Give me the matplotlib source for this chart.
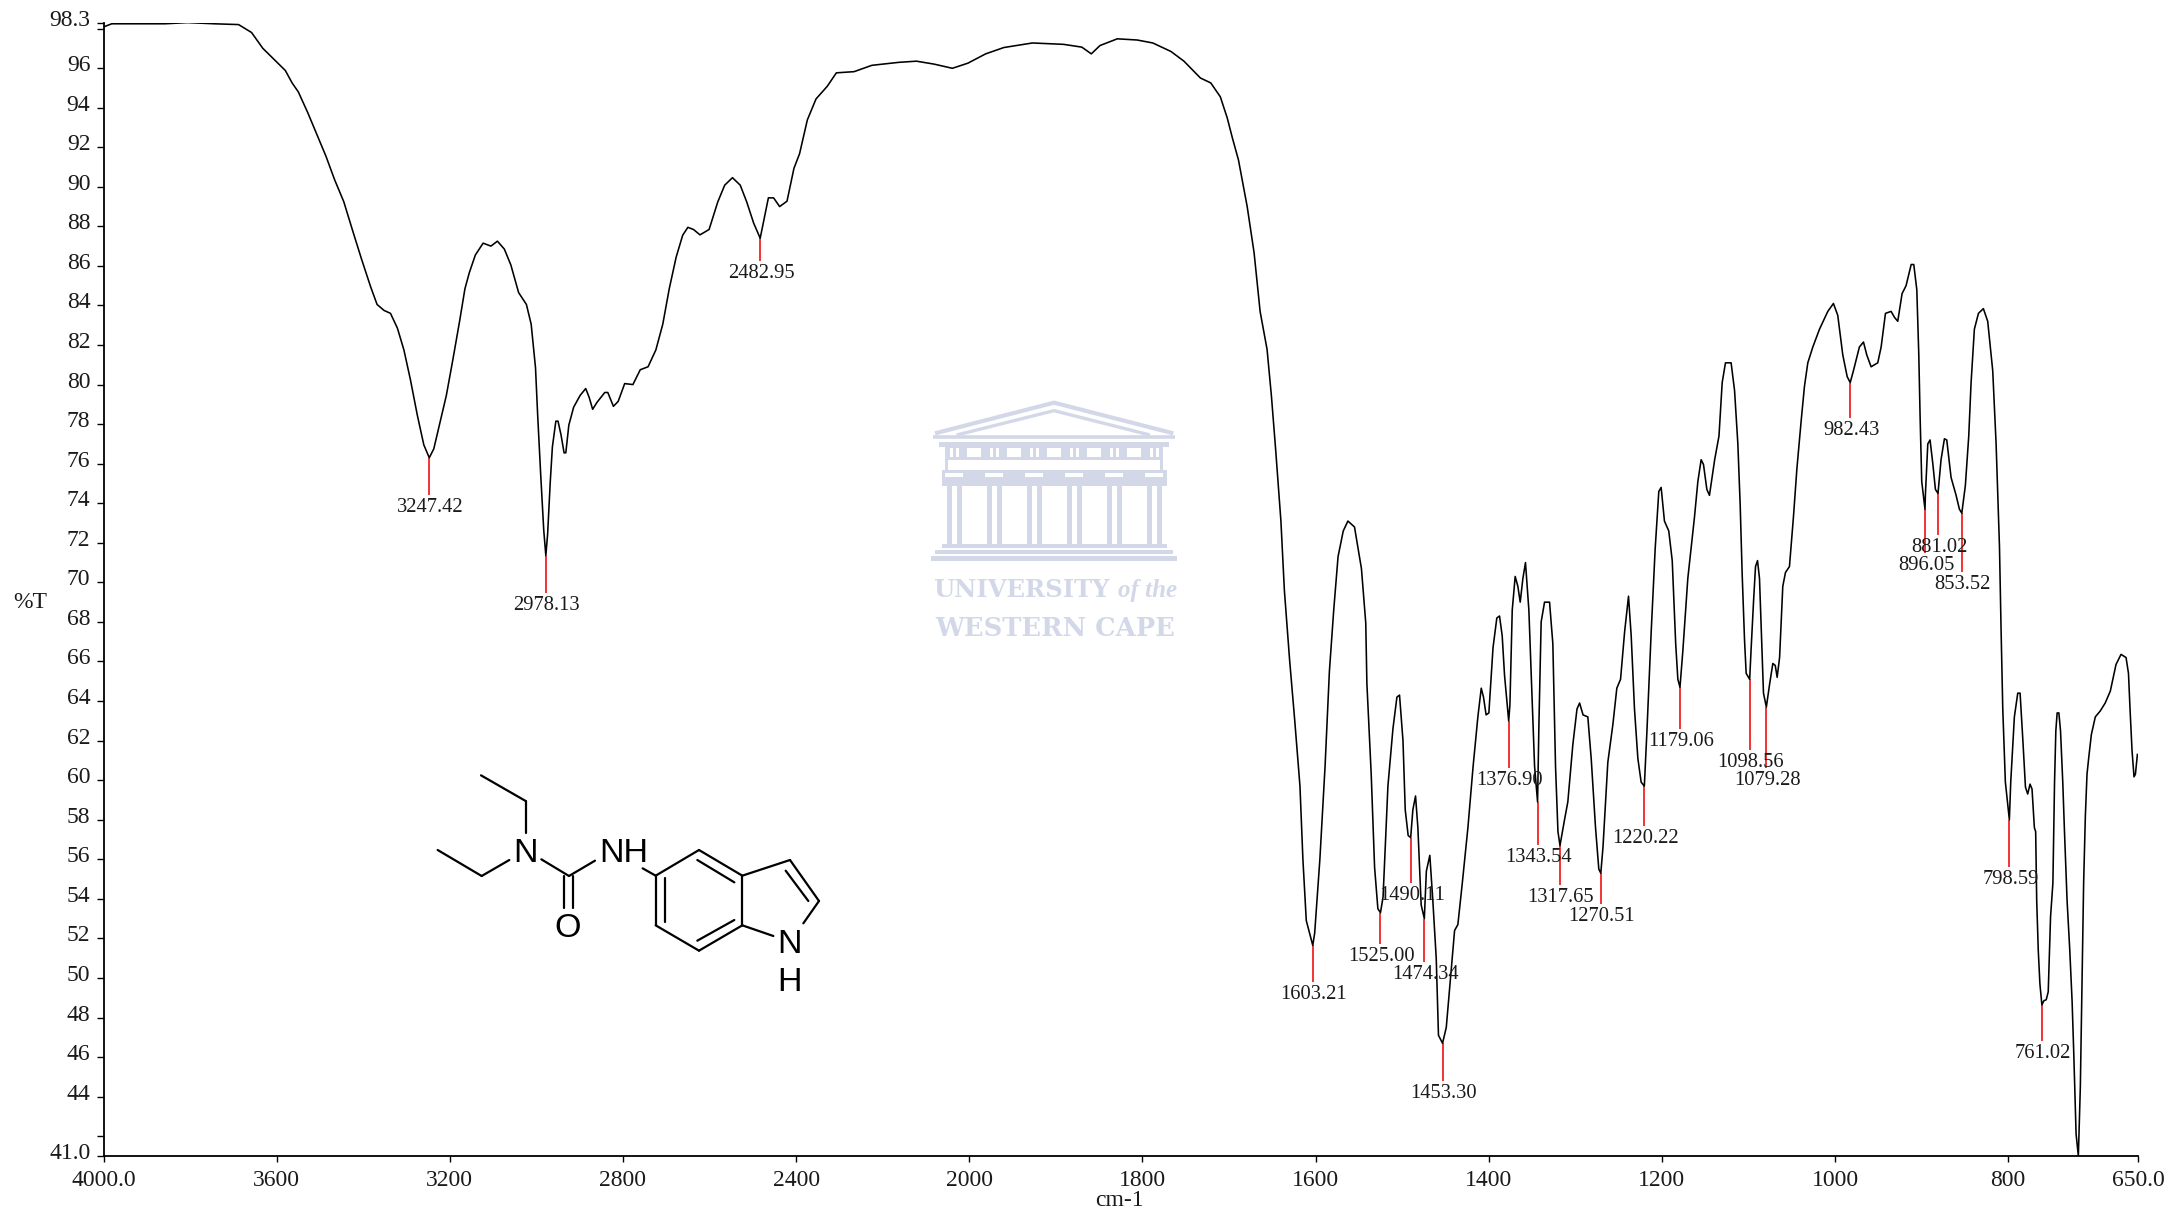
from matplotlib import pyplot as plt
from matplotlib.patches import Rectangle
from matplotlib.ticker import FixedLocator, FixedFormatter, NullLocator
from matplotlib.transforms import ScaledTranslation
import numpy as np

# spectrum, one list per stretch of the trace
wn_high = [4000, 3981, 3930, 3858, 3806, 3744, 3688, 3658, 3632, 3606, 3580, 3564, 3550, 3528, 3507, 3486, 3466, 3445,
           3424, 3404, 3383, 3368, 3352, 3337, 3321, 3306, 3291, 3275, 3260, 3247.42, 3237, 3224, 3208, 3193, 3177,
           3165, 3155, 3141, 3123, 3105, 3090, 3074, 3059, 3041, 3023, 3012, 3002, 2997, 2990, 2983, 2978.13, 2974,
           2968, 2963, 2955, 2950, 2943, 2936, 2932, 2925, 2914, 2899, 2886, 2878, 2870, 2860, 2842, 2835, 2822, 2811,
           2796, 2777, 2760, 2742, 2724, 2708, 2693, 2677, 2662, 2650]
t_high = [98.08, 98.24, 98.24, 98.24, 98.3, 98.24, 98.2, 97.8, 97.0, 96.44, 95.88, 95.24, 94.8, 93.74, 92.64, 91.54,
          90.35, 89.25, 87.75, 86.35, 84.95, 84.05, 83.75, 83.6, 82.85, 81.75, 80.25, 78.45, 76.95, 76.3, 76.75, 77.95,
          79.45, 81.25, 83.25, 84.85, 85.65, 86.55, 87.15, 87.0, 87.25, 86.85, 86.05, 84.65, 84.05, 83.05, 80.85, 78.45,
          75.45, 72.65, 71.35, 72.45, 75.05, 76.85, 78.15, 78.15, 77.45, 76.55, 76.55, 77.95, 78.85, 79.45, 79.8, 79.35,
          78.75, 79.1, 79.6, 79.6, 78.9, 79.15, 80.05, 80.0, 80.75, 80.9, 81.75, 83.05, 84.85, 86.45, 87.55, 87.95]

wn_mid = [2637, 2622, 2601, 2581, 2565, 2547, 2529, 2514, 2498, 2482.95, 2472, 2464, 2452, 2438, 2421, 2405, 2392, 2374,
          2354, 2328, 2307, 2266, 2225, 2163, 2122, 2081, 2039, 2003, 1981, 1960, 1927, 1891, 1870, 1859, 1849, 1829,
          1806, 1788, 1767, 1752, 1733, 1721, 1710, 1702, 1696, 1689, 1679, 1671, 1664, 1656, 1651, 1646]
t_mid = [87.84, 87.57, 87.84, 89.23, 90.08, 90.46, 90.08, 89.23, 88.16, 87.4, 88.59, 89.44, 89.44, 89.0, 89.27, 90.93,
         91.67, 93.38, 94.44, 95.08, 95.76, 95.82, 96.14, 96.29, 96.35, 96.2, 95.99, 96.25, 96.72, 97.04, 97.27, 97.2,
         97.06, 96.72, 97.14, 97.48, 97.42, 97.27, 96.84, 96.35, 95.5, 95.25, 94.55, 93.48, 92.46, 91.35, 89.01, 86.67,
         83.69, 81.78, 79.44, 76.67]

wn_fp1 = [1640, 1636, 1630, 1624, 1618, 1614.6, 1610.7, 1603.21, 1601, 1595, 1589, 1584, 1579, 1574, 1568, 1562.6, 1555,
          1547, 1542, 1540.7, 1535.7, 1531.8, 1528, 1525, 1522, 1516.4, 1510.6, 1506, 1503, 1499, 1496.4, 1493, 1490.11,
          1487.6, 1484.5, 1481.8, 1478, 1474.34, 1472, 1468, 1464.5, 1460.6, 1458, 1453.3, 1449, 1444.5, 1439.4, 1435.6,
          1430.6, 1424, 1418, 1412.5, 1408.6, 1406, 1403, 1399.8, 1395, 1390.6, 1387.5, 1384.4, 1381.7, 1376.9, 1375.5,
          1372.8, 1369.4, 1366.3, 1363.6, 1360.5, 1357.5, 1353.6, 1349.8, 1347, 1343.54, 1342, 1339.4, 1335.5, 1329.7,
          1325.9, 1322.8, 1320, 1317.65, 1312.4, 1308.6, 1302.8, 1298, 1295, 1291, 1285.5, 1281.6, 1276.6, 1272.8,
          1270.51, 1268, 1262.4, 1256.6, 1252, 1247.7, 1243, 1238.5, 1235.4, 1231.6, 1227.7, 1223.9, 1220.22, 1217.3,
          1212.3, 1207.7, 1203.5, 1200.8, 1197, 1192, 1188, 1184, 1181.5, 1179.06, 1175.8, 1170, 1162.3]
t_fp1 = [73.1, 69.6, 66.1, 63.0, 59.7, 56.0, 52.9, 51.65, 52.27, 56.0, 60.7, 65.5, 68.6, 71.3, 72.6, 73.1, 72.8, 70.7,
         67.95, 64.9, 60.3, 55.6, 53.5, 53.3, 54.1, 59.7, 62.6, 64.2, 64.3, 62.0, 58.5, 57.2, 57.1, 58.5, 59.2, 57.6,
         53.7, 53.0, 55.4, 56.2, 53.9, 51.0, 47.1, 46.7, 47.5, 49.8, 52.4, 52.7, 54.75, 57.6, 60.7, 63.2, 64.65, 64.2,
         63.3, 63.4, 66.7, 68.2, 68.3, 67.3, 65.3, 63.0, 63.8, 68.6, 70.3, 69.8, 69.0, 70.2, 71.0, 68.6, 64.0, 60.7,
         58.9, 62.8, 68.0, 69.0, 69.0, 66.9, 60.7, 57.4, 56.7, 58.0, 58.9, 61.8, 63.6, 63.9, 63.3, 63.2, 61.1, 57.6,
         55.5, 55.3, 56.6, 60.9, 62.8, 64.65, 65.1, 67.5, 69.3, 67.3, 63.6, 61.1, 59.9, 59.7, 62.4, 67.5, 71.7, 74.6,
         74.8, 73.1, 72.6, 71.1, 66.9, 65.1, 64.7, 66.5, 70.2, 73.3]

wn_fp2 = [1158.4, 1154.6, 1151.9, 1148, 1145, 1139, 1134, 1130.3, 1126.5, 1120, 1116, 1112.2, 1109.5, 1107.2, 1104.5,
          1102.6, 1098.56, 1096.8, 1094, 1091.8, 1089.5, 1087.2, 1084.5, 1082.6, 1079.28, 1075.7, 1071.8, 1069, 1066.8,
          1064, 1060.3, 1057.2, 1052.6, 1048, 1044, 1039, 1035.3, 1031.4, 1025.6, 1017.9, 1008.3, 1001.8, 996.8, 991,
          985.9, 982.43, 978.7, 971.8, 967.1, 963.3, 958.3, 950.6, 946.7, 941.7, 935.2, 931.3, 927.5, 922.5, 917.9, 912,
          909, 905.5, 903.2, 901.7, 899.8, 896.05, 895.5, 892.8, 890.2, 887, 884, 881.02, 877.5, 873.6, 870.9, 865.9,
          860.1, 856.3, 853.52, 849.4, 845.5, 842.8, 839, 834.3, 828.6, 823.6, 817.8, 813.9, 810, 808.2, 806.2, 803.2,
          798.59, 797, 792.8, 788.9, 786.2, 783.1, 780, 777.4, 774.7, 772.4, 769.7]
t_fp2 = [75.1, 76.2, 75.96, 74.7, 74.4, 76.2, 77.4, 80.1, 81.1, 81.1, 79.7, 77.0, 73.9, 70.4, 67.1, 65.4, 65.1, 66.7,
         69.1, 70.8, 71.1, 70.2, 66.7, 64.4, 63.7, 64.8, 65.9, 65.8, 65.2, 66.2, 69.8, 70.5, 70.8, 73.3, 75.75, 78.2,
         79.9, 81.1, 81.9, 82.8, 83.7, 84.1, 83.5, 81.5, 80.4, 80.1, 80.7, 81.9, 82.15, 81.5, 80.9, 81.1, 81.9, 83.6,
         83.7, 83.4, 83.2, 84.6, 85.0, 86.07, 86.07, 84.8, 81.5, 78.4, 75.1, 73.7, 74.5, 77.0, 77.2, 76.0, 74.7, 74.5,
         76.2, 77.26, 77.2, 75.3, 74.4, 73.7, 73.5, 74.9, 77.4, 80.1, 82.8, 83.6, 83.84, 83.2, 80.7, 77.0, 71.8, 67.7,
         63.6, 59.9, 58.0, 59.9, 63.2, 64.4, 64.4, 62.1, 59.65, 59.3, 59.8, 59.55, 57.6]

wn_low = [768.2, 767, 765.2, 763.3, 761.02, 758.7, 756, 753.7, 751, 748.3, 746.4, 744.9, 743.4, 741.4, 739.5, 736.9, 735,
          731.9, 728.8, 726.1, 724.2, 721.5, 718.9, 716.6, 714.7, 712.8, 710.8, 708.9, 707, 703.9, 699.3, 693.6, 687.9,
          682, 675.4, 669.6, 663.8, 661, 659.2, 656.9, 654.6, 653, 650.7]
t_low = [57.4, 53.9, 51.4, 49.7, 48.64, 48.85, 48.9, 49.3, 53.1, 54.8, 59.9, 62.5, 63.4, 63.4, 62.5, 59.9, 57.5, 53.9,
         51.4, 48.8, 46.2, 42.1, 41.0, 44.5, 49.7, 54.8, 58.2, 60.3, 61.1, 62.3, 63.2, 63.5, 63.9, 64.5, 65.85, 66.36,
         66.2, 65.4, 63.6, 61.5, 60.17, 60.3, 61.3]

# picked peaks: position, trace value, where the red line stops
peak_wn = [3247.42, 2978.13, 2482.95, 1603.21, 1525.00, 1490.11, 1474.34, 1453.30, 1376.90, 1343.54, 1317.65,
           1270.51, 1220.22, 1179.06, 1098.56, 1079.28, 982.43, 896.05, 881.02, 853.52, 798.59, 761.02]
peak_t = [76.3, 71.35, 87.4, 51.65, 53.3, 57.1, 53.0, 46.7, 63.0, 58.9, 56.7,
          55.3, 59.7, 64.7, 65.1, 63.7, 80.1, 73.7, 74.5, 73.5, 58.0, 48.64]
peak_end = [74.4, 69.45, 86.25, 49.8, 51.7, 54.8, 50.8, 44.8, 60.6, 56.7, 54.7,
            53.75, 57.7, 62.6, 61.55, 60.6, 78.3, 71.5, 72.4, 70.5, 55.6, 46.8]

x_ticks = [4000, 3600, 3200, 2800, 2400, 2000, 1800, 1600, 1400, 1200, 1000, 800, 650]
x_labels = ["4000.0", "3600", "3200", "2800", "2400", "2000", "1800", "1600", "1400", "1200", "1000", "800", "650.0"]
y_ticks = [41, 42] + list(range(44, 98, 2)) + [98, 98.3]
y_labels = ["41.0", ""] + [str(v) for v in range(44, 98, 2)] + ["", "98.3"]

SERIF = "Liberation Serif"
W, H = 2172, 1210


# the spectrometer doubles the scale below 2000 cm-1
def forward(x):
    x = np.asarray(x, dtype=float)
    return np.where(x >= 2000, (x - 2000) / 400, (x - 2000) / 200)


def inverse(p):
    p = np.asarray(p, dtype=float)
    return np.where(p >= 0, 2000 + p * 400, 2000 + p * 200)


fig = plt.figure(figsize=(W / 100, H / 100), dpi=100)

# overlay in image pixels for the drawing and the watermark
bg = fig.add_axes([0, 0, 1, 1], zorder=0)
bg.set_xlim(0, W)
bg.set_ylim(H, 0)
bg.axis("off")

# watermark
WM = "#d3d8e9"


def wm_x(v):
    return 900 + v / 3


def wm_y(v):
    return 380 + v / 3


def wm_rect(x0, y0, x1, y1, color=WM):
    bg.add_patch(Rectangle((wm_x(x0), wm_y(y0)), (x1 - x0) / 3, (y1 - y0) / 3, color=color, lw=0))


def wm_line(xs, ys, lw):
    bg.plot([wm_x(v) for v in xs], [wm_y(v) for v in ys], color=WM, lw=lw, solid_capstyle="butt")


wm_line([105, 462, 820], [160, 68, 160], 3.0)
wm_line([170, 462, 750], [165, 92, 165], 2.4)
wm_line([100, 825], [172, 172], 2.6)
wm_rect(118, 186, 808, 200)
wm_rect(135, 200, 790, 240)
for mx in [200, 320, 440, 560, 680]:
    wm_rect(mx, 205, mx + 43, 232, "white")
for mx in [150, 270, 390, 510, 630, 750]:
    wm_rect(mx, 205, mx + 8, 232, "white")
    wm_rect(mx + 18, 205, mx + 26, 232, "white")
wm_rect(135, 240, 145, 270)
wm_rect(780, 240, 790, 270)
wm_rect(125, 270, 800, 318)
for cx in [162, 282, 402, 522, 642, 762]:
    wm_rect(cx - 22, 318, cx + 24, 495)
    wm_rect(cx - 7, 318, cx + 9, 495, "white")
    wm_rect(cx - 26, 278, cx + 28, 290, "white")
wm_rect(125, 492, 800, 505)
wm_rect(105, 510, 820, 522)
wm_rect(92, 528, 832, 542)
bg.text(wm_x(100), wm_y(630), "UNIVERSITY", family="DejaVu Serif", weight="bold", fontsize=17.5, color=WM,
        ha="left", va="center")
bg.text(wm_x(832), wm_y(632), "of the", family=SERIF, style="italic", weight="bold", fontsize=18, color=WM,
        ha="right", va="center")
bg.text(wm_x(465), wm_y(744), "WESTERN CAPE", family="DejaVu Serif", weight="bold", fontsize=18.5, color=WM,
        ha="center", va="center")

# urea / indole structure
bonds = [
    ((243, 106), (377, 183)), ((377, 183), (377, 278)), ((113, 330), (245, 408)), ((245, 408), (328, 360)),
    ((424, 358), (507, 408)), ((507, 408), (585, 362)), ((492, 408), (492, 503)), ((520, 408), (520, 503)),
    ((728, 385), (767, 407)), ((767, 407), (897, 330)), ((897, 330), (1027, 407)), ((1027, 407), (1027, 556)),
    ((1027, 556), (897, 632)), ((897, 632), (767, 556)), ((767, 556), (767, 407)), ((795, 415), (795, 545)),
    ((892, 360), (1003, 427)), ((892, 602), (1003, 540)), ((1027, 407), (1170, 360)), ((1170, 360), (1257, 483)),
    ((1257, 483), (1210, 550)), ((1027, 556), (1120, 588)), ((1157, 392), (1225, 483)),
]
for a, b in bonds:
    bg.plot([400 + a[0] / 3, 400 + b[0] / 3], [740 + a[1] / 3, 740 + b[1] / 3], color="black", lw=1.6,
            solid_capstyle="round")
atoms = [(375, 330, "N"), (672, 330, "NH"), (503, 555, "O"), (1167, 603, "N"), (1167, 718, "H")]
for ax_, ay_, name in atoms:
    bg.text(400 + ax_ / 3, 740 + ay_ / 3, name, family="Liberation Sans", fontsize=24.5, ha="center",
            va="center_baseline", color="black")

# spectrum axes
left, right = 103.5, 2138
top, bottom = 22.6, 1156
ax = fig.add_axes([left / W, 1 - bottom / H, (right - left) / W, (bottom - top) / H], zorder=1)
ax.patch.set_visible(False)
ax.set_xscale("function", functions=(forward, inverse))
ax.set_xlim(4000, 650)
ax.set_ylim(41, 98.3)

wavenumber = wn_high + wn_mid + wn_fp1 + wn_fp2 + wn_low
transmittance = t_high + t_mid + t_fp1 + t_fp2 + t_low
ax.vlines(peak_wn, peak_end, peak_t, color="#f01010", lw=1.2, zorder=2)
ax.plot(wavenumber, transmittance, color="black", lw=1.15, zorder=3, clip_on=True)

for wn, end in zip(peak_wn, peak_end):
    ax.annotate("%.2f" % wn, (wn, end), xytext=(1, -3), textcoords="offset pixels", ha="center", va="top",
                family=SERIF, fontsize=14.8, color="#1a1a1a", zorder=4)

for side in ["top", "right"]:
    ax.spines[side].set_visible(False)
for side in ["left", "bottom"]:
    ax.spines[side].set_linewidth(1.3)

ax.xaxis.set_major_locator(FixedLocator(x_ticks))
ax.xaxis.set_major_formatter(FixedFormatter(x_labels))
ax.xaxis.set_minor_locator(NullLocator())
ax.yaxis.set_major_locator(FixedLocator(y_ticks))
ax.yaxis.set_major_formatter(FixedFormatter(y_labels))
ax.tick_params(axis="x", length=4.3, width=1, pad=6, labelsize=17, labelcolor="#1a1a1a")
ax.tick_params(axis="y", length=5, width=1, pad=4.5, labelsize=17, labelcolor="#1a1a1a")
for lab in ax.get_xticklabels() + ax.get_yticklabels():
    lab.set_family(SERIF)
# y labels sit a little above their ticks
lift = ScaledTranslation(0, 5 / 100, fig.dpi_scale_trans)
for lab in ax.get_yticklabels():
    lab.set_transform(lab.get_transform() + lift)

bg.text(30, 602, "%T", family=SERIF, fontsize=17, color="#1a1a1a", ha="center", va="center")
bg.text(1119, 1200, "cm-1", family=SERIF, fontsize=17, color="#1a1a1a", ha="center", va="center")

fig.savefig("out.png", dpi=100)
